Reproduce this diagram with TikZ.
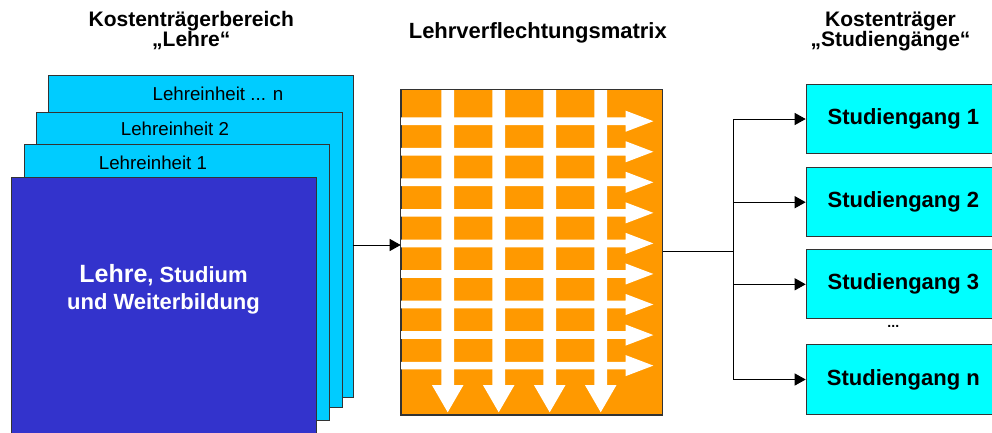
\documentclass[tikz,border=0pt]{standalone}
\usepackage{fontspec}
\setmainfont{Liberation Sans}
\usetikzlibrary{arrows.meta}
\definecolor{lecyan}{HTML}{00CCFF}
\definecolor{sgaqua}{HTML}{00FFFF}
\definecolor{lsblue}{HTML}{3333CC}
\definecolor{lvorange}{HTML}{FF9900}
\definecolor{edgegray}{HTML}{333333}
\begin{document}
\begin{tikzpicture}[x=1pt,y=-1pt,
  box/.style={draw=edgegray, line width=1pt, inner sep=0pt, anchor=north west},
  lebox/.style={box, fill=lecyan},
  lelabel/.style={font=\fontsize{18.7}{22}\selectfont, anchor=base, inner sep=0pt},
  hdr/.style={font=\bfseries\fontsize{21}{19.5}\selectfont, align=center, anchor=base, inner sep=0pt},
  sgbox/.style={draw=edgegray, line width=1pt, fill=sgaqua, minimum width=194.3pt,
    minimum height=69.3pt, inner sep=0pt, anchor=west,
    font=\bfseries\fontsize{22}{26}\selectfont},
  conn/.style={line width=1pt, draw=black, -{Triangle[length=11pt,width=12pt]}},
  line/.style={line width=1pt, draw=black},
  whitearrow/.style={fill=white}
]
\useasboundingbox (0,0) rectangle (992,432);
\clip (0,0) rectangle (992,432);
\fill[white] (0,0) rectangle (992,432);

% headers (base anchor = baseline of the last line)
\node[hdr] (h1) at (191.3,46.7) {Kostenträgerbereich\\„Lehre“};
\node[hdr, font=\bfseries\fontsize{22}{20}\selectfont] (h2) at (537.8,38.3) {Lehrverflechtungsmatrix};
\node[hdr] (h3) at (890.5,46.7) {Kostenträger\\„Studiengänge“};

% left stack
\node[lebox, minimum width=305pt, minimum height=321.7pt] (len) at (47.7,75) {};
\node[lebox, minimum width=305.4pt, minimum height=295pt] (le2) at (36.3,112.3) {};
\node[lebox, minimum width=305.3pt, minimum height=276.3pt] (le1) at (23.7,143.7) {};
\node[lelabel] (tn) at (218,100.7) {Lehreinheit ... n};
\node[lelabel] (t2) at (175,135.7) {Lehreinheit 2};
\node[lelabel] (t1) at (153,169) {Lehreinheit 1};
\node[box, fill=lsblue, minimum width=305pt, minimum height=270pt] (ls) at (11,177.3) {};
\node[font=\bfseries\fontsize{22}{26.3}\selectfont, text=white, align=center, anchor=base, inner sep=0pt]
  (lst) at (163.5,309) {{\fontsize{25}{26.3}\selectfont Lehre}, Studium\\und Weiterbildung};

% matrix
\node[box, fill=lvorange, minimum width=261pt, minimum height=325pt] (lvm) at (400.7,89) {};
\foreach \yc in {121.2,151.75,182.3,212.85,243.4,273.95,304.5,335.05,365.6} {
  \fill[whitearrow] (400.7,\yc-3.85) -- (625.7,\yc-3.85) -- (625.7,\yc-10.5) -- (653.3,\yc)
    -- (625.7,\yc+10.5) -- (625.7,\yc+3.85) -- (400.7,\yc+3.85) -- cycle;
}
\foreach \xc in {447.7,498.7,549.7,600.7} {
  \fill[whitearrow] (\xc-6.35,89) -- (\xc+6.35,89) -- (\xc+6.35,385) -- (\xc+15.8,385)
    -- (\xc,412.3) -- (\xc-15.8,385) -- (\xc-6.35,385) -- cycle;
}
\draw[draw=edgegray, line width=1pt] (lvm.north west) rectangle (lvm.south east);

% right boxes
\node[sgbox] (sg1) at (805.7,119) {Studiengang 1};
\node[sgbox] (sg2) at (805.7,202.2) {Studiengang 2};
\node[sgbox] (sg3) at (805.7,284.3) {Studiengang 3};
\node[sgbox] (sgn) at (805.7,379.5) {Studiengang n};
\node[font=\bfseries\fontsize{14}{16}\selectfont, inner sep=0pt] (dots) at (893.3,326.5) {...};

% connectors
\coordinate (in) at (352.7,245);
\draw[conn] (in) -- (lvm.west |- in);
\coordinate (br) at (733.3,251.5);
\draw[line] (lvm.east |- br) -- (br);
\draw[line] (br |- sg1.west) -- (br |- sgn.west);
\foreach \s in {sg1,sg2,sg3,sgn} {
  \draw[conn] (br |- \s.west) -- (\s.west);
}
\end{tikzpicture}
\end{document}
